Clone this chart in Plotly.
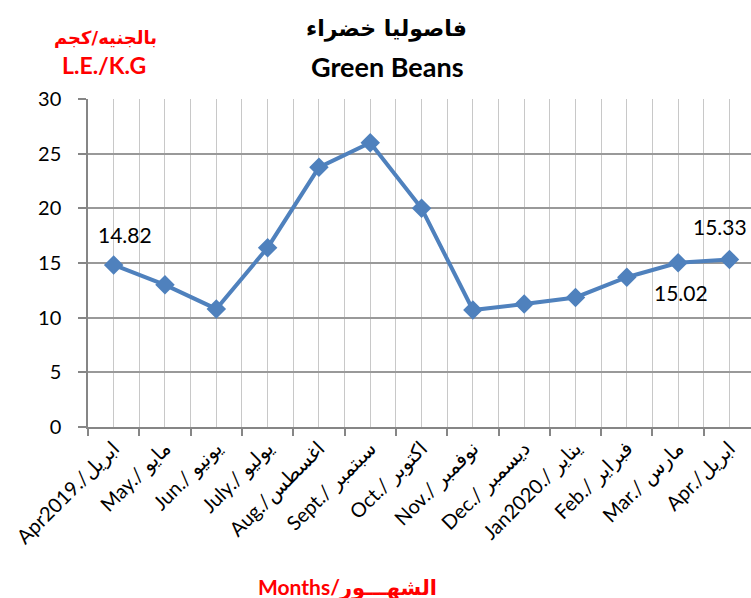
import plotly.graph_objects as go

months = ["Apr2019./ابريل", "May./ مايو", "Jun./ يونيو", "July./ يوليو", "Aug./اغسطس",
          "Sept./ سبتمبر", "Oct./ اكتوبر", "Nov./ نوفمبر", "Dec./ ديسمبر",
          "Jan2020./ يناير", "Feb./ فبراير", "Mar./ مارس", "Apr./ابريل"]
prices = [14.82, 13.0, 10.8, 16.4, 23.75, 26.0, 20.0, 10.7, 11.25, 11.85, 13.7, 15.02, 15.33]
labelled = {0: (11, 30), 11: (3, -30), 12: (-9, 33)}  # index -> (xshift, yshift)

title_ar = "فاصوليا خضراء"
title_en = "Green Beans"
unit_ar = "بالجنيه/كجم"
unit_en = "L.E./K.G"
xtitle = "Months/الشهـــور"

FONT = "Lato, 'DejaVu Sans', sans-serif"
BLUE = "#4F81BD"

xs = list(range(len(months)))

fig = go.Figure()
fig.add_trace(go.Scatter(
    x=xs, y=prices, mode="lines+markers",
    line=dict(color=BLUE, width=4),
    marker=dict(symbol="diamond", size=15, color=BLUE),
    hoverinfo="skip", showlegend=False,
))

annotations = []
for i, (dx, dy) in labelled.items():
    annotations.append(dict(x=xs[i], y=prices[i], xref="x", yref="y", text=f"{prices[i]:.2f}",
                            showarrow=False, xshift=dx, yshift=dy,
                            xanchor="center", yanchor="middle",
                            font=dict(family=FONT, size=21, color="black")))

# (x centre px, y centre px from top, text, family, size, colour)
paper_texts = [
    (386, 29, f"<b>{title_ar}</b>", "'DejaVu Sans', sans-serif", 22, "black"),
    (387, 66, f"<b>{title_en}</b>", FONT, 27, "black"),
    (105, 38, f"<b>{unit_ar}</b>", "'DejaVu Sans', sans-serif", 18, "#FF0000"),
    (104, 65, f"<b>{unit_en}</b>", FONT, 23, "#FF0000"),
    (347, 587, f"<b>{xtitle}</b>", FONT, 21, "#FF0000"),
]

W, H = 751, 598
ML, MR, MT, MB = 88, 0, 99, 171
pw, ph = W - ML - MR, H - MT - MB
for px, py, txt, fam, sz, col in paper_texts:
    annotations.append(dict(x=(px - ML) / pw, y=((H - py) - MB) / ph, xref="paper", yref="paper",
                            text=txt, showarrow=False, xanchor="center", yanchor="middle",
                            font=dict(family=fam, size=sz, color=col)))

fig.update_layout(
    width=W, height=H,
    margin=dict(l=ML, r=MR, t=MT, b=MB),
    paper_bgcolor="white", plot_bgcolor="white",
    annotations=annotations,
    font=dict(family=FONT, size=18, color="black"),
)

fig.update_xaxes(
    range=[-0.5, 12.42],
    tickmode="array", tickvals=xs, ticktext=months,
    tickangle=-45, ticks="",
    tickfont=dict(family=FONT, size=20, color="black"),
    showgrid=True, gridcolor="#C8C8C8", gridwidth=1,
    showline=True, linecolor="#868686", linewidth=1.5,
    zeroline=False,
    minor=dict(tickmode="array", tickvals=[i - 0.5 for i in range(len(months) + 1)],
               showgrid=True, gridcolor="#C8C8C8", gridwidth=1,
               ticks="outside", ticklen=7, tickcolor="#868686", tickwidth=1.5),
)
fig.update_yaxes(
    range=[0, 30], tickmode="linear", tick0=0, dtick=5,
    ticks="outside", ticklen=8, tickcolor="#868686", tickwidth=1.5,
    ticklabelstandoff=13,
    tickfont=dict(family=FONT, size=20, color="black"),
    showgrid=True, gridcolor="#999999", gridwidth=1.5,
    showline=True, linecolor="#868686", linewidth=1.5,
    zeroline=False,
)

fig.write_html("out.html", config={"displayModeBar": False},
               post_script="document.body.style.margin='0';")
